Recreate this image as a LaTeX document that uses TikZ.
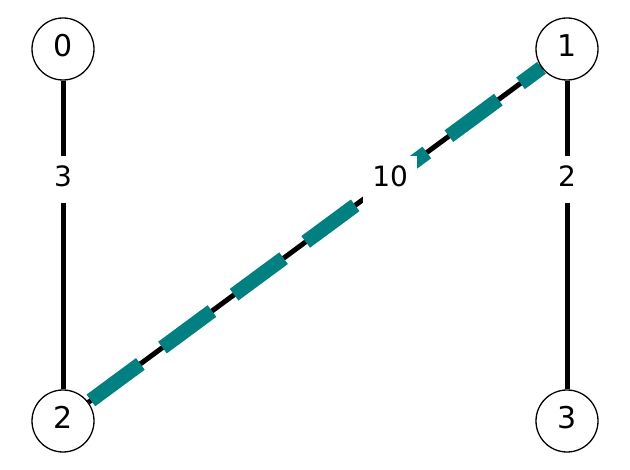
\documentclass[tikz,border=0pt]{standalone}
\usepackage{fontspec}
\setmainfont{DejaVu Sans}
\usetikzlibrary{calc,backgrounds}
\definecolor{tealc}{RGB}{0,128,128}
\tikzset{
  vertex/.style={circle, draw=black, line width=1.3pt, fill=white, minimum size=62pt, inner sep=0pt,
    font=\fontsize{30}{36}\selectfont, text height=22.8pt, text depth=7.2pt},
  edgeline/.style={draw=black, line width=5pt},
  teallink/.style={draw=tealc, line width=14.5pt, dash pattern=on 61.5pt off 27.5pt, dash phase=86pt},
  elabel/.style={fill=white, inner sep=9.5pt, font=\fontsize{28}{34}\selectfont, text height=21.3pt, text depth=6.7pt}
}
\begin{document}
\begin{tikzpicture}[x=1pt,y=-1pt]
\useasboundingbox (0,0) rectangle (630,470);
\node[vertex] (n0) at (63,49) {0};
\node[vertex] (n1) at (567,49) {1};
\node[vertex] (n2) at (63,421) {2};
\node[vertex] (n3) at (567,421) {3};
\begin{pgfonlayer}{background}
\draw[edgeline] (n0) -- (n2);
\draw[edgeline] (n1) -- (n3);
\draw[edgeline] (n1) -- (n2);
\draw[teallink] (n2) -- (n1);
\node[elabel] (l02) at ($(n0.center)!0.351!(n2.center)$) {3};
\node[elabel] (l13) at ($(n1.center)!0.351!(n3.center)$) {2};
\node[elabel] (l12) at ($(n1.center)!0.351!(n2.center)$) {10};
\end{pgfonlayer}
\end{tikzpicture}
\end{document}
